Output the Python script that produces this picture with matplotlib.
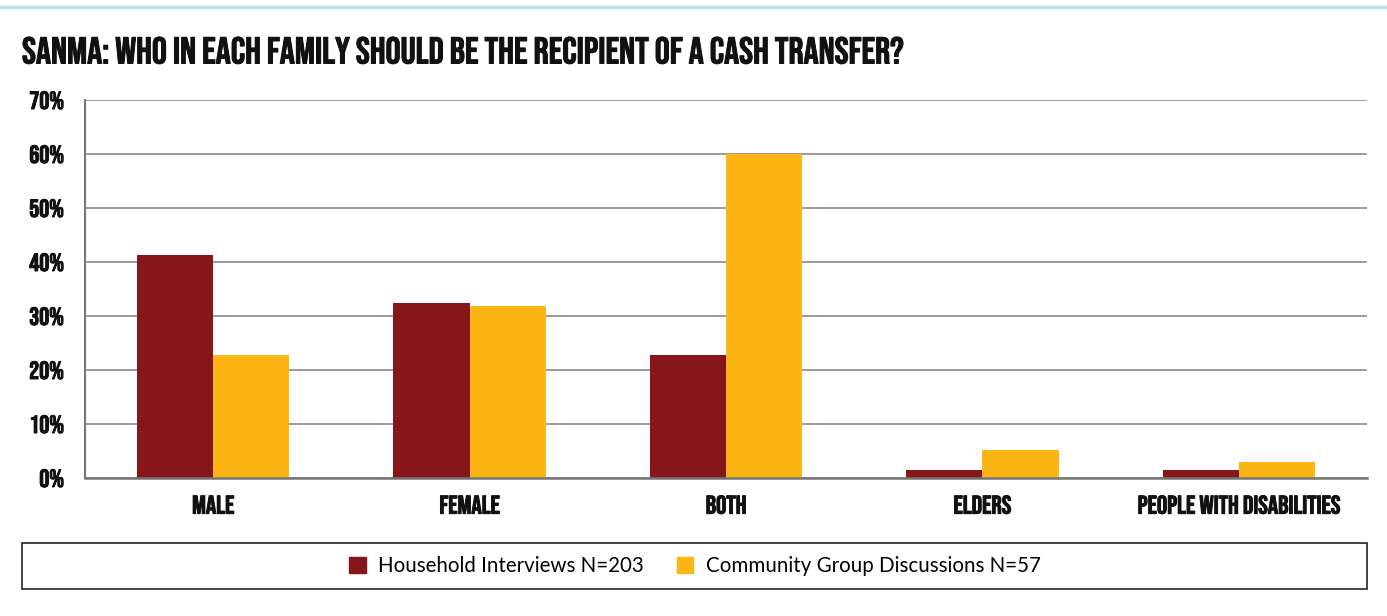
import numpy as np
import matplotlib
matplotlib.use("Agg")
from matplotlib import pyplot as plt
from matplotlib.patches import Rectangle
from matplotlib.lines import Line2D
from matplotlib import patheffects

# data
categories = ["MALE", "FEMALE", "BOTH", "ELDERS", "PEOPLE WITH DISABILITIES"]
household = [41.3, 32.5, 22.8, 1.5, 1.5]
community = [22.8, 31.8, 60.0, 5.2, 3.0]
series_names = ["Household Interviews N=203", "Community Group Discussions N=57"]
yticks = [0, 10, 20, 30, 40, 50, 60, 70]

red = "#86161a"
yellow = "#fdb515"
ink = "#111111"
# Bebas is a bit light, thicken it a little with a stroke
bold = [patheffects.withStroke(linewidth=0.7, foreground=ink)]
cond = dict(family=["Bebas Neue", "DejaVu Sans"], color=ink, path_effects=bold)

fig = plt.figure(figsize=(13.87, 6.16), dpi=100)
W, H = 1387, 616
ax = fig.add_axes([85 / W, 1 - 478 / H, (1367 - 85) / W, (478 - 100) / H])

x = np.arange(len(categories))
w = 0.297
ax.bar(x - w / 2, household, w, color=red, zorder=3)
ax.bar(x + w / 2, community, w, color=yellow, zorder=3)

ax.set_xlim(-0.5, len(categories) - 0.5)
ax.set_ylim(0, 70)
ax.set_yticks(yticks)
ax.set_yticklabels([f"{v}%" for v in yticks], fontsize=18, **cond)
ax.set_xticks(x)
ax.set_xticklabels(categories, fontsize=18.5, **cond)
ax.tick_params(axis="both", length=0)
ax.tick_params(axis="x", pad=12)
ax.tick_params(axis="y", pad=15)
ax.grid(axis="y", color="#8a8a8a", linewidth=1.2, zorder=0)
for s in ["top", "right"]:
    ax.spines[s].set_visible(False)
ax.spines["left"].set_color("#777777")
ax.spines["left"].set_linewidth(1.5)
ax.spines["bottom"].set_color("#777777")
ax.spines["bottom"].set_linewidth(1.8)
ax.spines["bottom"].set_zorder(4)

# title and top rule
fig.add_artist(Line2D([0, 1], [1 - 7 / H, 1 - 7 / H], color="#b3e3e8", linewidth=2.5))
fig.text(22 / W, 1 - 50 / H, "SANMA: WHO IN EACH FAMILY SHOULD BE THE RECIPIENT OF A CASH TRANSFER?",
         fontsize=27, va="center", ha="left", **cond)

# legend box
fig.add_artist(Rectangle((22 / W, 1 - 589 / H), (1367 - 22) / W, 46 / H,
                         fill=False, edgecolor="#222222", linewidth=1.2))
handles = [Rectangle((0, 0), 1, 1, color=red), Rectangle((0, 0), 1, 1, color=yellow)]
fig.legend(handles, series_names, loc="center", bbox_to_anchor=(695 / W, 1 - 566 / H),
           ncol=2, frameon=False, handlelength=0.8, handleheight=0.8, handletextpad=0.6,
           columnspacing=1.6, prop=dict(family="Lato", size=14.8))

plt.savefig("out.png", dpi=100)
